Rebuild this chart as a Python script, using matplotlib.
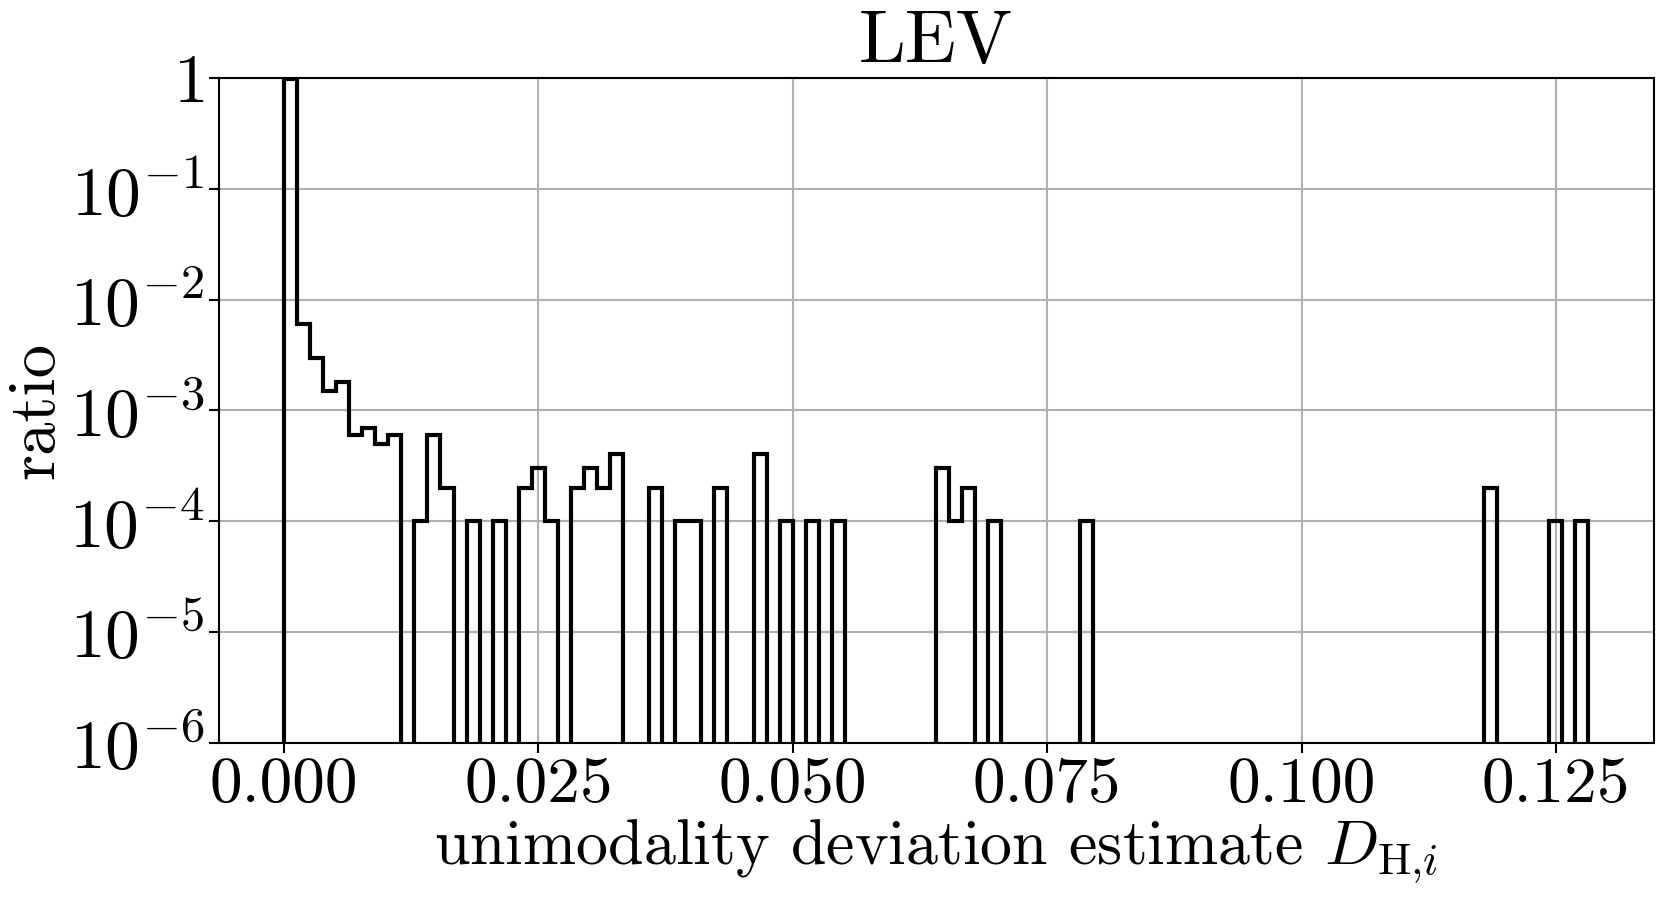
import numpy as np
import matplotlib
matplotlib.use("Agg")
import matplotlib.pyplot as plt

plt.rcParams['font.family'] = 'serif'
plt.rcParams['font.serif'] = ['cmr10']
plt.rcParams['mathtext.fontset'] = 'cm'
plt.rcParams['axes.formatter.use_mathtext'] = True
plt.rcParams['axes.formatter.min_exponent'] = 1
plt.rcParams['axes.unicode_minus'] = False

# ---- data ----
title = "LEV"
xlabel = r"unimodality deviation estimate $D_{\mathrm{H}{,}i}$"
ylabel = "ratio"
n_samples = 10000
d_max = 0.1282
n_bins = 100
counts = [
    9800, 60, 30, 15, 18, 6, 7, 5, 6, 0,
    1, 6, 2, 0, 1, 0, 1, 0, 2, 3,
    1, 0, 2, 3, 2, 4, 0, 0, 2, 0,
    1, 1, 0, 2, 0, 0, 4, 0, 1, 0,
    1, 0, 1, 0, 0, 0, 0, 0, 0, 0,
    3, 1, 2, 0, 1, 0, 0, 0, 0, 0,
    0, 1, 0, 0, 0, 0, 0, 0, 0, 0,
    0, 0, 0, 0, 0, 0, 0, 0, 0, 0,
    0, 0, 0, 0, 0, 0, 0, 0, 0, 0,
    0, 0, 2, 0, 0, 0, 0, 1, 0, 1,
]
x_ticks = [0.0, 0.025, 0.05, 0.075, 0.1, 0.125]
y_ticks = [1e-6, 1e-5, 1e-4, 1e-3, 1e-2, 1e-1, 1]

edges = np.linspace(0.0, d_max, n_bins + 1)
ratio = np.array(counts, dtype=float) / n_samples

fig = plt.figure(figsize=(16.57, 9.08), dpi=100)
ax = fig.add_axes([0.132, 0.182, 0.866, 0.732])

ax.hist(edges[:-1], bins=edges, weights=ratio, histtype='step',
        color='black', linewidth=3.0, zorder=3)
ax.set_yscale('log')
ax.set_ylim(1e-6, 1)
ax.set_yticks(y_ticks)
ax.minorticks_off()
ax.set_xticks(x_ticks)
ax.xaxis.set_major_formatter(matplotlib.ticker.FormatStrFormatter('%.3f'))
ax.grid(True, color='#b0b0b0', linewidth=1.5, zorder=0)
ax.set_axisbelow(True)

ax.tick_params(axis='x', labelsize=47, length=7, width=1.5, direction='out')
ax.tick_params(axis='y', labelsize=50, length=7, width=1.5, direction='out')
for s in ax.spines.values():
    s.set_linewidth(1.5)
ax.set_title(title, fontsize=54, pad=6)
ax.set_xlabel(xlabel, fontsize=46, labelpad=2)
ax.set_ylabel(ylabel, fontsize=48, labelpad=2)

fig.savefig("out.png", dpi=100)
